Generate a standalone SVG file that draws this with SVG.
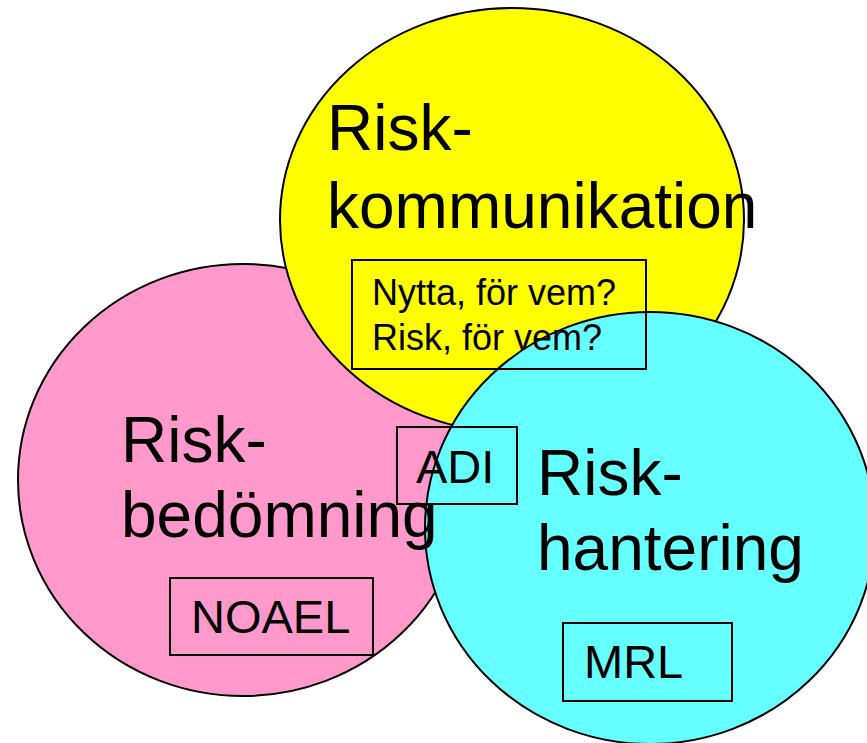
<svg xmlns="http://www.w3.org/2000/svg" width="867" height="743" viewBox="0 0 867 743">
<style>
.c{stroke:#000;stroke-width:2}
.b{fill:none;stroke:#000;stroke-width:2}
text{font-family:"Liberation Sans",Arial,sans-serif;fill:#000}
.big{font-size:64px}
.mid{font-size:47px}
.sm{font-size:36px}
</style>
<rect width="867" height="743" fill="#fff"/>
<g id="bedomning-circle"><ellipse class="c" cx="243" cy="480" rx="225" ry="216" fill="#FF99CC"/></g>
<g id="kommunikation-circle"><ellipse class="c" cx="512" cy="220" rx="232" ry="212" fill="#FFFF00"/></g>
<g id="hantering-circle"><ellipse class="c" cx="650" cy="528" rx="225" ry="216" fill="#66FFFF"/></g>
<g id="kommunikation">
<text class="big" x="327" y="150">Risk-</text>
<text class="big" x="327" y="228">kommunikation</text>
</g>
<g id="nytta">
<rect class="b" x="352" y="260" width="294" height="109"/>
<text class="sm" x="372" y="305">Nytta, för vem?</text>
<text class="sm" x="372" y="350">Risk, för vem?</text>
</g>
<g id="bedomning">
<text class="big" x="121" y="462">Risk-</text>
<text class="big" x="121" y="537">bedömning</text>
</g>
<g id="noael">
<rect class="b" x="170" y="578" width="203" height="77"/>
<text class="mid" x="191" y="633">NOAEL</text>
</g>
<g id="adi">
<rect class="b" x="397" y="427" width="120" height="77"/>
<text class="mid" x="416" y="483">ADI</text>
</g>
<g id="hantering">
<text class="big" x="537" y="495">Risk-</text>
<text class="big" x="537" y="570">hantering</text>
</g>
<g id="mrl">
<rect class="b" x="563" y="623" width="169" height="78"/>
<text class="mid" x="584" y="678">MRL</text>
</g>
</svg>
